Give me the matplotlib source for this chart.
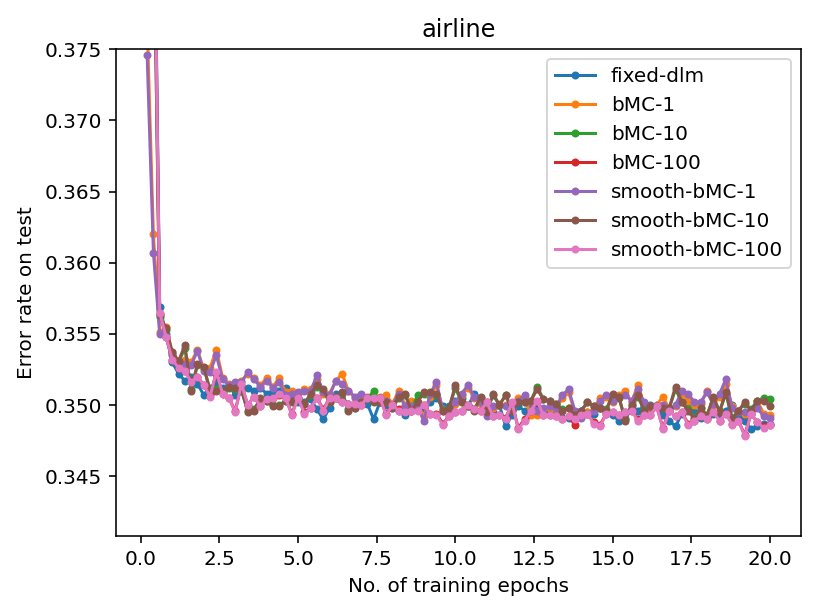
import matplotlib
matplotlib.use("Agg")
import matplotlib.pyplot as plt
import numpy as np

# epochs: 0.2, 0.4, ..., 20.0
epochs = np.round(np.arange(1, 101) * 0.2, 1)

fixed_dlm = [
    0.4300, 0.3920, 0.3569, 0.3550, 0.3530, 0.3522, 0.3517, 0.3520, 0.3515, 0.3507,
    0.3512, 0.3516, 0.3512, 0.3514, 0.3507, 0.3512, 0.3512, 0.3510, 0.3512, 0.3508,
    0.3510, 0.3510, 0.3512, 0.3505, 0.3502, 0.3502, 0.3504, 0.3497, 0.3490, 0.3498,
    0.3508, 0.3503, 0.3501, 0.3501, 0.3503, 0.3501, 0.3490, 0.3502, 0.3500, 0.3500,
    0.3496, 0.3493, 0.3498, 0.3498, 0.3498, 0.3502, 0.3505, 0.3499, 0.3499, 0.3503,
    0.3505, 0.3499, 0.3508, 0.3503, 0.3496, 0.3495, 0.3500, 0.3485, 0.3493, 0.3499,
    0.3496, 0.3498, 0.3497, 0.3496, 0.3496, 0.3495, 0.3491, 0.3491, 0.3494, 0.3496,
    0.3495, 0.3494, 0.3498, 0.3495, 0.3493, 0.3489, 0.3490, 0.3498, 0.3496, 0.3499,
    0.3500, 0.3500, 0.3493, 0.3489, 0.3485, 0.3494, 0.3499, 0.3495, 0.3491, 0.3491,
    0.3494, 0.3493, 0.3496, 0.3500, 0.3493, 0.3489, 0.3483, 0.3485, 0.3487, 0.3487,
]

bmc_1 = [
    0.3770, 0.3620, 0.3551, 0.3555, 0.3537, 0.3531, 0.3532, 0.3530, 0.3539, 0.3525,
    0.3526, 0.3539, 0.3519, 0.3515, 0.3514, 0.3517, 0.3522, 0.3519, 0.3514, 0.3519,
    0.3513, 0.3519, 0.3509, 0.3510, 0.3508, 0.3511, 0.3511, 0.3518, 0.3508, 0.3508,
    0.3517, 0.3522, 0.3510, 0.3505, 0.3507, 0.3506, 0.3504, 0.3506, 0.3507, 0.3501,
    0.3510, 0.3500, 0.3503, 0.3500, 0.3492, 0.3506, 0.3514, 0.3497, 0.3497, 0.3501,
    0.3507, 0.3512, 0.3505, 0.3501, 0.3494, 0.3498, 0.3501, 0.3500, 0.3497, 0.3505,
    0.3505, 0.3493, 0.3493, 0.3497, 0.3498, 0.3497, 0.3505, 0.3509, 0.3495, 0.3492,
    0.3495, 0.3497, 0.3505, 0.3506, 0.3502, 0.3507, 0.3510, 0.3502, 0.3514, 0.3501,
    0.3498, 0.3500, 0.3506, 0.3497, 0.3499, 0.3508, 0.3503, 0.3500, 0.3501, 0.3510,
    0.3500, 0.3506, 0.3515, 0.3499, 0.3496, 0.3494, 0.3496, 0.3503, 0.3494, 0.3493,
]

bmc_10 = [
    0.4120, 0.3870, 0.3562, 0.3553, 0.3536, 0.3530, 0.3540, 0.3511, 0.3528, 0.3526,
    0.3511, 0.3511, 0.3509, 0.3512, 0.3511, 0.3510, 0.3496, 0.3497, 0.3504, 0.3503,
    0.3500, 0.3500, 0.3503, 0.3502, 0.3504, 0.3501, 0.3507, 0.3513, 0.3510, 0.3502,
    0.3505, 0.3508, 0.3497, 0.3498, 0.3502, 0.3504, 0.3510, 0.3502, 0.3502, 0.3498,
    0.3505, 0.3507, 0.3497, 0.3507, 0.3508, 0.3508, 0.3507, 0.3497, 0.3498, 0.3512,
    0.3502, 0.3499, 0.3497, 0.3505, 0.3496, 0.3507, 0.3500, 0.3507, 0.3497, 0.3502,
    0.3502, 0.3503, 0.3513, 0.3504, 0.3503, 0.3501, 0.3497, 0.3498, 0.3494, 0.3496,
    0.3502, 0.3499, 0.3498, 0.3497, 0.3507, 0.3505, 0.3490, 0.3500, 0.3506, 0.3497,
    0.3499, 0.3499, 0.3498, 0.3498, 0.3511, 0.3502, 0.3497, 0.3491, 0.3498, 0.3493,
    0.3505, 0.3496, 0.3508, 0.3491, 0.3496, 0.3501, 0.3497, 0.3503, 0.3505, 0.3504,
]

bmc_100 = [
    0.4210, 0.3905, 0.3564, 0.3548, 0.3532, 0.3526, 0.3524, 0.3517, 0.3520, 0.3514,
    0.3507, 0.3522, 0.3508, 0.3505, 0.3496, 0.3514, 0.3500, 0.3506, 0.3499, 0.3504,
    0.3505, 0.3507, 0.3505, 0.3494, 0.3505, 0.3495, 0.3498, 0.3505, 0.3497, 0.3505,
    0.3505, 0.3502, 0.3501, 0.3501, 0.3500, 0.3505, 0.3504, 0.3505, 0.3494, 0.3500,
    0.3497, 0.3495, 0.3496, 0.3497, 0.3500, 0.3494, 0.3494, 0.3487, 0.3492, 0.3495,
    0.3496, 0.3500, 0.3497, 0.3496, 0.3502, 0.3492, 0.3493, 0.3491, 0.3501, 0.3484,
    0.3490, 0.3496, 0.3502, 0.3493, 0.3493, 0.3492, 0.3490, 0.3492, 0.3486, 0.3493,
    0.3494, 0.3488, 0.3486, 0.3494, 0.3495, 0.3493, 0.3495, 0.3496, 0.3490, 0.3493,
    0.3493, 0.3499, 0.3484, 0.3496, 0.3492, 0.3495, 0.3487, 0.3489, 0.3492, 0.3490,
    0.3495, 0.3489, 0.3494, 0.3487, 0.3489, 0.3479, 0.3494, 0.3488, 0.3485, 0.3486,
]

smooth_bmc_1 = [
    0.3746, 0.3607, 0.3550, 0.3548, 0.3535, 0.3530, 0.3529, 0.3528, 0.3538, 0.3524,
    0.3523, 0.3535, 0.3518, 0.3514, 0.3516, 0.3516, 0.3523, 0.3518, 0.3513, 0.3517,
    0.3512, 0.3516, 0.3507, 0.3508, 0.3509, 0.3510, 0.3510, 0.3521, 0.3509, 0.3507,
    0.3517, 0.3515, 0.3510, 0.3506, 0.3508, 0.3505, 0.3503, 0.3505, 0.3503, 0.3500,
    0.3508, 0.3499, 0.3499, 0.3499, 0.3489, 0.3508, 0.3516, 0.3496, 0.3496, 0.3502,
    0.3508, 0.3514, 0.3506, 0.3502, 0.3492, 0.3499, 0.3500, 0.3499, 0.3499, 0.3503,
    0.3507, 0.3502, 0.3496, 0.3498, 0.3499, 0.3498, 0.3507, 0.3511, 0.3496, 0.3491,
    0.3494, 0.3496, 0.3503, 0.3507, 0.3503, 0.3506, 0.3507, 0.3503, 0.3511, 0.3502,
    0.3499, 0.3499, 0.3500, 0.3496, 0.3500, 0.3510, 0.3508, 0.3502, 0.3502, 0.3509,
    0.3501, 0.3508, 0.3518, 0.3498, 0.3495, 0.3495, 0.3494, 0.3498, 0.3492, 0.3491,
]

smooth_bmc_10 = [
    0.4100, 0.3860, 0.3563, 0.3554, 0.3537, 0.3531, 0.3542, 0.3510, 0.3529, 0.3527,
    0.3510, 0.3510, 0.3510, 0.3513, 0.3512, 0.3511, 0.3495, 0.3496, 0.3505, 0.3503,
    0.3499, 0.3499, 0.3503, 0.3503, 0.3505, 0.3501, 0.3508, 0.3514, 0.3511, 0.3502,
    0.3506, 0.3509, 0.3496, 0.3498, 0.3502, 0.3505, 0.3502, 0.3502, 0.3502, 0.3498,
    0.3506, 0.3508, 0.3496, 0.3502, 0.3509, 0.3509, 0.3508, 0.3496, 0.3498, 0.3514,
    0.3502, 0.3499, 0.3496, 0.3506, 0.3495, 0.3508, 0.3500, 0.3507, 0.3496, 0.3502,
    0.3502, 0.3503, 0.3511, 0.3504, 0.3503, 0.3501, 0.3496, 0.3498, 0.3493, 0.3496,
    0.3502, 0.3499, 0.3498, 0.3496, 0.3508, 0.3506, 0.3489, 0.3500, 0.3507, 0.3496,
    0.3499, 0.3499, 0.3498, 0.3498, 0.3513, 0.3502, 0.3496, 0.3490, 0.3498, 0.3492,
    0.3506, 0.3495, 0.3509, 0.3490, 0.3496, 0.3502, 0.3496, 0.3503, 0.3503, 0.3499,
]

smooth_bmc_100 = [
    0.4200, 0.3900, 0.3565, 0.3548, 0.3532, 0.3526, 0.3524, 0.3516, 0.3520, 0.3514,
    0.3506, 0.3523, 0.3508, 0.3505, 0.3495, 0.3515, 0.3500, 0.3506, 0.3499, 0.3504,
    0.3505, 0.3508, 0.3505, 0.3493, 0.3505, 0.3494, 0.3498, 0.3505, 0.3496, 0.3505,
    0.3505, 0.3502, 0.3501, 0.3501, 0.3500, 0.3505, 0.3505, 0.3505, 0.3493, 0.3500,
    0.3496, 0.3495, 0.3496, 0.3496, 0.3500, 0.3494, 0.3493, 0.3486, 0.3492, 0.3495,
    0.3496, 0.3500, 0.3497, 0.3496, 0.3502, 0.3492, 0.3493, 0.3490, 0.3502, 0.3483,
    0.3489, 0.3496, 0.3503, 0.3493, 0.3493, 0.3492, 0.3490, 0.3492, 0.3490, 0.3493,
    0.3494, 0.3487, 0.3485, 0.3494, 0.3495, 0.3493, 0.3495, 0.3496, 0.3489, 0.3493,
    0.3493, 0.3499, 0.3483, 0.3496, 0.3492, 0.3495, 0.3486, 0.3489, 0.3492, 0.3490,
    0.3495, 0.3489, 0.3494, 0.3486, 0.3489, 0.3478, 0.3494, 0.3488, 0.3484, 0.3486,
]

labels = ["fixed-dlm", "bMC-1", "bMC-10", "bMC-100",
          "smooth-bMC-1", "smooth-bMC-10", "smooth-bMC-100"]
series = [fixed_dlm, bmc_1, bmc_10, bmc_100,
          smooth_bmc_1, smooth_bmc_10, smooth_bmc_100]

DPI = 144
fig = plt.figure(figsize=(822 / DPI, 616 / DPI), dpi=DPI)
ax = fig.add_axes([0.1411, 0.1299, 0.8334, 0.7901])

for ys, lab in zip(series, labels):
    ax.plot(epochs, ys, ".-", label=lab)

ax.set_ylim(0.3408, 0.375)
ax.set_title("airline")
ax.set_xlabel("No. of training epochs")
ax.set_ylabel("Error rate on test")
ax.legend(loc="upper right")

fig.savefig("out.png", dpi=DPI)
